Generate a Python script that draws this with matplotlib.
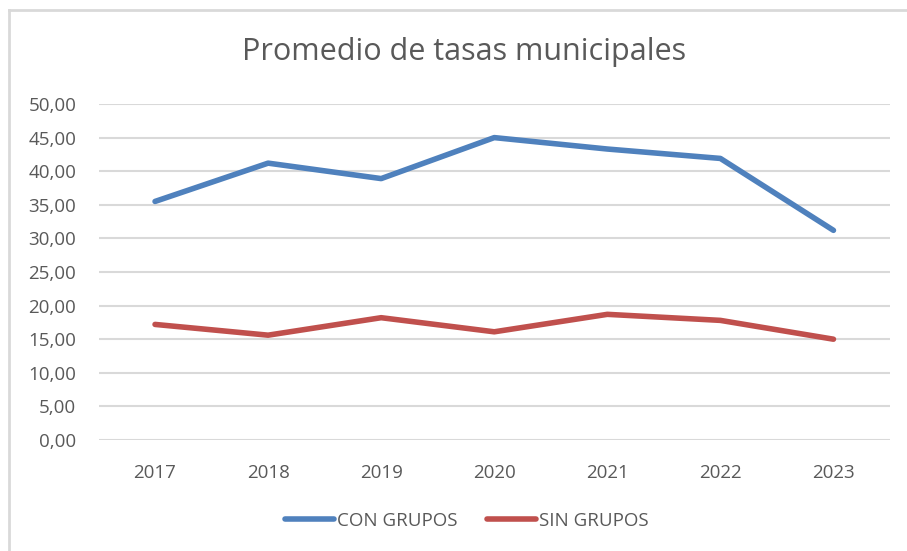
import matplotlib.pyplot as plt
from matplotlib.lines import Line2D

# data
years = ['2017', '2018', '2019', '2020', '2021', '2022', '2023']
con_grupos = [35.5, 41.2, 38.9, 45.0, 43.3, 41.9, 31.2]
sin_grupos = [17.2, 15.6, 18.2, 16.1, 18.7, 17.8, 15.0]
yticks = [0, 5, 10, 15, 20, 25, 30, 35, 40, 45, 50]

plt.rcParams['font.family'] = ['Open Sans', 'DejaVu Sans']

W, H = 907, 551
fig = plt.figure(figsize=(W / 100, H / 100), dpi=100)
fig.patch.set_facecolor('white')

# outer chart border (excel style), only top and left are inside the picture
fig.lines.append(Line2D([9 / W, 1], [1 - 10 / H, 1 - 10 / H],
                        transform=fig.transFigure, color='#d9d9d9', linewidth=2))
fig.lines.append(Line2D([9 / W, 9 / W], [0, 1 - 10 / H],
                        transform=fig.transFigure, color='#d9d9d9', linewidth=2))

ax = fig.add_axes([98.5 / W, 1 - 440 / H, (890 - 98.5) / W, (440 - 104) / H])
x = list(range(len(years)))
ax.plot(x, con_grupos, color='#4f81bd', linewidth=4, solid_capstyle='round',
        label='CON GRUPOS')
ax.plot(x, sin_grupos, color='#c0504d', linewidth=4, solid_capstyle='round',
        label='SIN GRUPOS')

ax.set_xlim(-0.5, len(years) - 0.5)
ax.set_ylim(0, 50)
ax.set_xticks(x)
ax.set_xticklabels(years)
ax.set_yticks(yticks)
ax.set_yticklabels([('%.2f' % v).replace('.', ',') for v in yticks])
ax.tick_params(axis='both', length=0, labelsize=13.5, labelcolor='#595959')
ax.tick_params(axis='y', pad=16)
ax.tick_params(axis='x', pad=17)
ax.grid(axis='y', color='#d9d9d9', linewidth=1.5)
ax.set_axisbelow(True)
for s in ax.spines.values():
    s.set_visible(False)

fig.text(464 / W, 1 - 52 / H, 'Promedio de tasas municipales', ha='center',
         va='center', fontsize=22, color='#595959')

ax.legend(loc='center', bbox_to_anchor=(467 / W, 1 - 521 / H),
          bbox_transform=fig.transFigure, ncol=2, frameon=False,
          fontsize=13.5, labelcolor='#595959', handlelength=2.6,
          handletextpad=0.15, columnspacing=1.6)

fig.savefig('out.png', dpi=100, facecolor='white')
